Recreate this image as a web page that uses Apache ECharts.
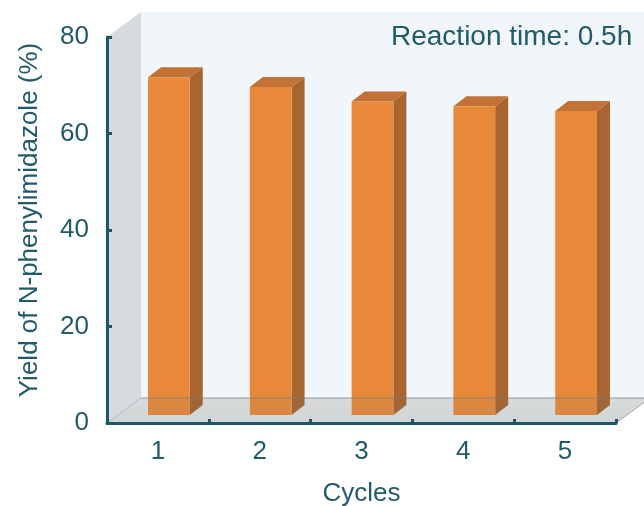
<!DOCTYPE html>
<html>
<head>
<meta charset="utf-8">
<title>Catalyst recycling – yield of N-phenylimidazole</title>
<script src="https://cdn.jsdelivr.net/npm/echarts@6/dist/echarts.min.js"></script>
<style>
  html, body { margin: 0; padding: 0; background: #ffffff; }
  #chart { width: 644px; height: 506px; }
</style>
</head>
<body>
<div id="chart"></div>
<script>
// Recycling runs and the yield obtained in each run
const cycles = ['1', '2', '3', '4', '5'];
const yieldPct = [70, 68, 65, 64, 63];
const yMin = 0, yMax = 80, yStep = 20;
const note = 'Reaction time: 0.5h';

// Pseudo-3D look (screen-pixel offsets for depth)
const WALL_DEPTH = [34, -25];   // back wall relative to front plane
const BAR_FRONT = [11, -8];     // bar front face relative to front plane
const BAR_DEPTH = [13, -10];    // bar front face -> bar back face
const BAR_WIDTH = 0.41;         // share of category band

const INK = '#1d5668';
const TEXT = '#215b6b';
const FONT = '"Liberation Sans", Arial, sans-serif';

function pts(list) { return list.map(p => [p[0], p[1]]); }

// Walls and floor behind the columns
function renderWalls(params, api) {
  const r = params.coordSys;
  const dx = WALL_DEPTH[0], dy = WALL_DEPTH[1];
  const L = r.x, R = r.x + r.width, T = r.y, B = r.y + r.height;
  return {
    type: 'group',
    children: [
      { type: 'polygon', shape: { points: pts([[L + dx, T + dy], [R + dx + 40, T + dy], [R + dx + 40, B + dy], [L + dx, B + dy]]) },
        style: { fill: '#f0f6f9' } },
      { type: 'polygon', shape: { points: pts([[L, T], [L + dx, T + dy], [L + dx, B + dy], [L, B]]) },
        style: { fill: '#d5dbde' } },
      { type: 'polygon', shape: { points: pts([[L, B], [L + dx, B + dy], [R + dx, B + dy], [R, B]]) },
        style: { fill: {
          type: 'linear', x: 0, y: 0, x2: 0, y2: 1,
          colorStops: [{ offset: 0, color: '#e4e7e8' }, { offset: 1, color: '#dcdfe0' }]
        } } },
      { type: 'polyline', shape: { points: pts([[L, B], [L + dx, B + dy]]) },
        style: { stroke: '#b9bec1', lineWidth: 1, fill: null } },
      { type: 'polyline', shape: { points: pts([[R, B], [R + dx, B + dy]]) },
        style: { stroke: '#a9aeb1', lineWidth: 1, fill: null } }
    ]
  };
}

// Floor tint and back edge drawn over the column bases
function renderFloorOverlay(params, api) {
  const r = params.coordSys;
  const dx = WALL_DEPTH[0], dy = WALL_DEPTH[1];
  const L = r.x, R = r.x + r.width, B = r.y + r.height;
  return {
    type: 'group',
    children: [
      { type: 'polygon', shape: { points: pts([[L, B], [L + dx, B + dy], [R + dx, B + dy], [R, B]]) },
        style: { fill: 'rgba(110,115,120,0.10)' } },
      { type: 'polyline', shape: { points: pts([[L + dx, B + dy], [R + dx + 40, B + dy]]) },
        style: { stroke: 'rgba(120,126,130,0.75)', lineWidth: 1, fill: null } }
    ]
  };
}

// One 3D column: front, side and top faces
function renderColumn(params, api) {
  const i = api.value(0), v = api.value(1);
  const base = api.coord([i, 0]);
  const top = api.coord([i, v]);
  const band = api.size([1, 0])[0];
  const w = band * BAR_WIDTH;
  const x0 = base[0] - w / 2 + BAR_FRONT[0];
  const x1 = x0 + w;
  const yb = base[1] + BAR_FRONT[1];
  const yt = top[1] + BAR_FRONT[1];
  const dx = BAR_DEPTH[0], dy = BAR_DEPTH[1];
  return {
    type: 'group',
    children: [
      { type: 'polygon', shape: { points: [[x1, yt], [x1 + dx, yt + dy], [x1 + dx, yb + dy], [x1, yb]] },
        style: { fill: '#a9652f' } },
      { type: 'polygon', shape: { points: [[x0, yt], [x0 + dx, yt + dy], [x1 + dx, yt + dy], [x1, yt]] },
        style: { fill: '#c27237' } },
      { type: 'rect', shape: { x: x0, y: yt, width: w, height: yb - yt },
        style: { fill: '#e8893a' } }
    ]
  };
}

const chart = echarts.init(document.getElementById('chart'), null, { renderer: 'canvas' });

chart.setOption({
  animation: false,
  backgroundColor: '#ffffff',
  grid: { left: 107, right: 28, top: 37, bottom: 83, containLabel: false, outerBoundsMode: 'none' },
  xAxis: {
    type: 'category',
    data: cycles,
    z: 10,
    name: 'Cycles',
    nameLocation: 'middle',
    nameGap: 58,
    nameTextStyle: { color: TEXT, fontSize: 26, fontFamily: FONT },
    axisLine: { show: true, lineStyle: { color: INK, width: 3 } },
    axisTick: { show: true, inside: true, length: 4, lineStyle: { color: INK, width: 3 } },
    axisLabel: { color: TEXT, fontSize: 26, fontFamily: FONT, margin: 16 },
    splitLine: { show: false }
  },
  yAxis: {
    type: 'value',
    min: yMin, max: yMax, interval: yStep,
    z: 10,
    name: 'Yield of N-phenylimidazole (%)',
    nameLocation: 'middle',
    nameGap: 64,
    nameTextStyle: { color: TEXT, fontSize: 26, fontFamily: FONT, padding: [0, 0, 0, 20] },
    axisLine: { show: true, lineStyle: { color: INK, width: 3 } },
    axisTick: { show: true, inside: true, length: 5, lineStyle: { color: INK, width: 3 } },
    axisLabel: { color: TEXT, fontSize: 26, fontFamily: FONT, margin: 18 },
    splitLine: { show: false }
  },
  graphic: [{
    type: 'text',
    z: 100,
    left: 391,
    top: 23,
    style: { text: note, fill: TEXT, font: '28px ' + FONT }
  }],
  series: [
    {
      type: 'custom',
      name: 'walls',
      coordinateSystem: 'cartesian2d',
      renderItem: renderWalls,
      data: [[0, 0]],
      z: 1,
      silent: true,
      clip: false
    },
    {
      type: 'custom',
      name: 'Yield',
      coordinateSystem: 'cartesian2d',
      renderItem: renderColumn,
      data: yieldPct.map((v, i) => [i, v]),
      encode: { x: 0, y: 1 },
      z: 2,
      clip: false
    },
    {
      type: 'custom',
      name: 'floor',
      coordinateSystem: 'cartesian2d',
      renderItem: renderFloorOverlay,
      data: [[0, 0]],
      z: 3,
      silent: true,
      clip: false
    }
  ]
});
</script>
</body>
</html>
